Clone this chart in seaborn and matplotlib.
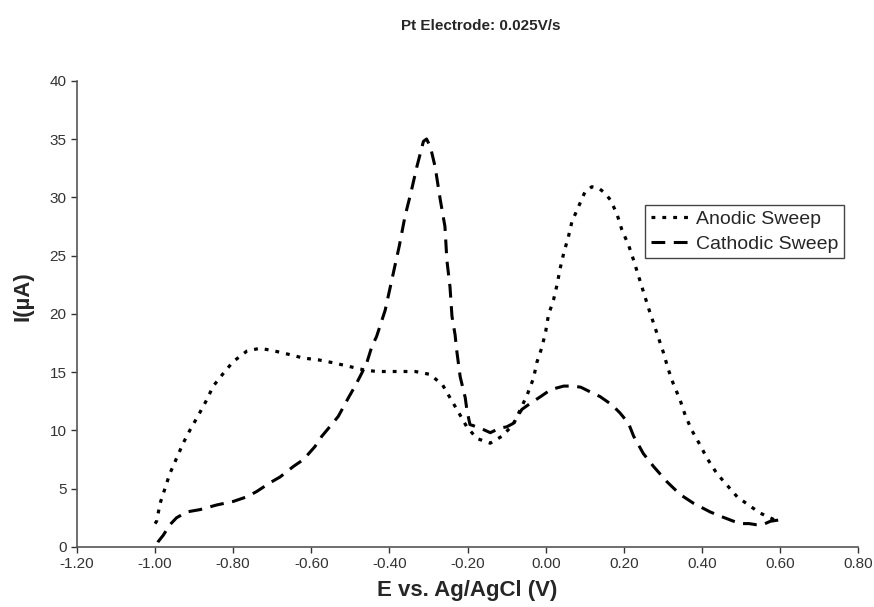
import matplotlib
matplotlib.use("Agg")
import matplotlib.pyplot as plt
import seaborn as sns
import pandas as pd

# Anodic sweep (dotted)
anodic_E = [-1.00, -0.996, -0.987, -0.962, -0.945, -0.928, -0.911, -0.889, -0.868, -0.851,
            -0.825, -0.80, -0.765, -0.731, -0.693, -0.655, -0.62, -0.582, -0.544, -0.505,
            -0.467, -0.433, -0.373, -0.334, -0.296, -0.264, -0.245, -0.224, -0.202, -0.176,
            -0.142, -0.112, -0.083, -0.048, -0.031, -0.023, -0.01, 0.0, 0.007, 0.02,
            0.029, 0.037, 0.046, 0.058, 0.067, 0.084, 0.101, 0.118, 0.135, 0.15,
            0.165, 0.182, 0.195, 0.212, 0.225, 0.237, 0.25, 0.263, 0.276, 0.289,
            0.302, 0.313, 0.326, 0.344, 0.357, 0.374, 0.395, 0.413, 0.438, 0.464,
            0.49, 0.519, 0.549, 0.587, 0.595]
anodic_I = [2.0, 2.2, 3.75, 6.3, 7.6, 8.9, 10.0, 11.3, 12.6, 13.8,
            14.9, 15.9, 16.8, 17.05, 16.8, 16.5, 16.2, 16.05, 15.8, 15.5,
            15.2, 15.05, 15.05, 15.05, 14.8, 13.9, 12.8, 11.6, 10.3, 9.3,
            8.9, 9.5, 10.5, 13.0, 14.5, 15.8, 17.1, 18.5, 19.9, 21.2,
            22.5, 23.9, 25.2, 26.6, 27.9, 29.2, 30.5, 30.9, 30.8, 30.4,
            29.8, 28.6, 27.2, 25.9, 24.6, 23.3, 21.9, 20.5, 19.2, 17.9,
            16.6, 15.3, 14.05, 12.6, 11.3, 10.0, 8.75, 7.6, 6.3, 5.3,
            4.3, 3.6, 2.9, 2.3, 2.3]

# Cathodic sweep (dashed), traced from +0.6 V back to -1.0 V
cathodic_E = [0.595, 0.575, 0.555, 0.54, 0.52, 0.50, 0.481, 0.45, 0.421, 0.378,
              0.344, 0.31, 0.276, 0.25, 0.225, 0.212, 0.19, 0.169, 0.139, 0.114,
              0.09, 0.071, 0.046, 0.013, -0.013, -0.04, -0.061, -0.083, -0.10, -0.117,
              -0.142, -0.168, -0.194, -0.202, -0.206, -0.219, -0.228, -0.232, -0.24, -0.245,
              -0.253, -0.258, -0.27, -0.283, -0.295, -0.305, -0.313, -0.33, -0.345, -0.36,
              -0.375, -0.394, -0.411, -0.433, -0.445, -0.458, -0.471, -0.488, -0.505, -0.531,
              -0.548, -0.573, -0.591, -0.62, -0.646, -0.68, -0.706, -0.74, -0.765, -0.80,
              -0.842, -0.885, -0.919, -0.945, -0.962, -0.979, -0.992, -0.998]
cathodic_I = [2.3, 2.2, 1.9, 1.9, 2.0, 2.0, 2.2, 2.6, 3.0, 3.75,
              4.5, 5.6, 6.9, 8.0, 9.5, 10.6, 11.5, 12.2, 12.9, 13.3,
              13.7, 13.8, 13.8, 13.5, 12.9, 12.3, 11.8, 10.6, 10.3, 10.2,
              9.8, 10.2, 10.5, 11.8, 12.8, 14.6, 16.9, 18.2, 19.8, 22.3,
              24.6, 27.5, 29.8, 32.6, 34.3, 35.0, 34.8, 32.6, 30.4, 28.4,
              25.8, 22.9, 20.3, 18.05, 17.2, 15.8, 14.9, 13.8, 12.8, 11.2,
              10.5, 9.5, 8.6, 7.5, 6.9, 6.0, 5.5, 4.75, 4.3, 3.9,
              3.6, 3.2, 3.0, 2.5, 1.9, 1.0, 0.45, 0.0]

x_ticks = [-1.20, -1.00, -0.80, -0.60, -0.40, -0.20, 0.00, 0.20, 0.40, 0.60, 0.80]
y_ticks = [0, 5, 10, 15, 20, 25, 30, 35, 40]

sns.set_theme(style="ticks")
plt.rcParams['font.family'] = ['Liberation Sans', 'DejaVu Sans']

fig = plt.figure(figsize=(8.74, 6.07), dpi=100)
ax = fig.add_axes([0.088, 0.099, 0.894, 0.768])

df_a = pd.DataFrame({"E": anodic_E, "I": anodic_I})
df_c = pd.DataFrame({"E": cathodic_E, "I": cathodic_I})

sns.lineplot(data=df_a, x="E", y="I", ax=ax, sort=False, color="black",
             linewidth=2.3, linestyle=(0, (1.2, 2.2)), label="Anodic Sweep")
sns.lineplot(data=df_c, x="E", y="I", ax=ax, sort=False, color="black",
             linewidth=2.2, linestyle=(0, (4.5, 2.8)), label="Cathodic Sweep")

ax.set_xlim(-1.2, 0.8)
ax.set_ylim(0, 40)
ax.set_xticks(x_ticks)
ax.set_xticklabels([f"{t:.2f}" for t in x_ticks])
ax.set_yticks(y_ticks)
ax.tick_params(axis="both", labelsize=11, colors="#333333", length=4, width=1, direction="out")
for s in ["top", "right"]:
    ax.spines[s].set_visible(False)
for s in ["left", "bottom"]:
    ax.spines[s].set_color("#555555")
    ax.spines[s].set_linewidth(1.2)

ax.set_xlabel("E vs. Ag/AgCl (V)", fontsize=16, fontweight="bold", va="top")
ax.xaxis.set_label_coords(0.5, -0.072)
ax.set_ylabel("I(µA)", fontsize=16, fontweight="bold")
ax.yaxis.set_label_coords(-0.056, 0.539)
fig.text(0.55, 0.957, "Pt Electrode: 0.025V/s", ha="center", va="center",
         fontsize=11, fontweight="bold")

leg = ax.legend(loc="upper left", bbox_to_anchor=(0.727, 0.734), fontsize=14,
                frameon=True, fancybox=False, framealpha=1, edgecolor="#444444",
                handlelength=2.0, handletextpad=0.3, borderpad=0.3, labelspacing=0.35,
                borderaxespad=0)
leg.get_frame().set_linewidth(1.0)

fig.savefig("out.png", dpi=100)
